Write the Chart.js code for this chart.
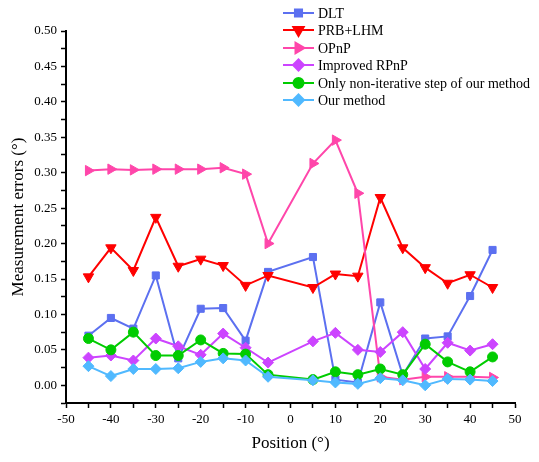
<!DOCTYPE html>
<html>
<head>
<meta charset="utf-8">
<script src="https://cdn.jsdelivr.net/npm/chart.js@4/dist/chart.umd.min.js"></script>
<style>
  html, body { margin: 0; padding: 0; background: #fff; }
  #wrap { width: 539px; height: 462px; }
</style>
</head>
<body>
<div id="wrap"><canvas id="myChart" width="539" height="462"></canvas></div>
<script>
'use strict';

// Positions (deg) where every method was measured
const positions = [-45, -40, -35, -30, -25, -20, -15, -10, -5, 5, 10, 15, 20, 25, 30, 35, 40, 45];

const dlt      = [0.070, 0.095, 0.080, 0.155, 0.038, 0.108, 0.109, 0.063, 0.160, 0.181, 0.008, 0.004, 0.117, 0.014, 0.066, 0.069, 0.126, 0.191];
const prbLhm   = [0.153, 0.194, 0.162, 0.237, 0.168, 0.178, 0.169, 0.141, 0.155, 0.138, 0.157, 0.154, 0.265, 0.194, 0.166, 0.144, 0.156, 0.138];
const opnp     = [0.303, 0.305, 0.304, 0.305, 0.305, 0.305, 0.307, 0.298, 0.200, 0.313, 0.346, 0.271, 0.012, 0.008, 0.012, 0.012, 0.012, 0.011];
const rpnp     = [0.039, 0.042, 0.035, 0.066, 0.055, 0.043, 0.073, 0.053, 0.032, 0.062, 0.074, 0.050, 0.047, 0.075, 0.023, 0.060, 0.049, 0.058];
const nonIter  = [0.066, 0.050, 0.075, 0.042, 0.042, 0.064, 0.045, 0.044, 0.015, 0.008, 0.019, 0.015, 0.023, 0.015, 0.058, 0.033, 0.019, 0.040];
const ours     = [0.027, 0.013, 0.023, 0.023, 0.024, 0.033, 0.038, 0.035, 0.012, 0.007, 0.004, 0.002, 0.010, 0.007, 0.000, 0.009, 0.008, 0.006];

const seriesNames = ['DLT', 'PRB+LHM', 'OPnP', 'Improved RPnP', 'Only non-iterative step of our method', 'Our method'];

// Axis ticks
const xTicks = [-50, -40, -30, -20, -10, 0, 10, 20, 30, 40, 50];
const yTicks = [0.00, 0.05, 0.10, 0.15, 0.20, 0.25, 0.30, 0.35, 0.40, 0.45, 0.50];

const FONT = '"Liberation Serif", "Times New Roman", serif';

function toPoints(values) {
    return positions.map((x, i) => ({x: x, y: values[i]}));
}

function makeSet(label, values, color, style, rotation, radius, order) {
    return {
        label: label,
        data: toPoints(values),
        borderColor: color,
        backgroundColor: color,
        borderWidth: 2,
        pointStyle: style,
        pointRotation: rotation,
        pointRadius: radius,
        pointBorderWidth: 1,
        pointHoverRadius: radius,
        order: order,
        tension: 0
    };
}

const datasets = [
    makeSet(seriesNames[0], dlt,     'rgb(92,112,240)',  'rect',     0,   5, 5),
    makeSet(seriesNames[1], prbLhm,  'rgb(255,0,0)',     'triangle', 180, 6, 4),
    makeSet(seriesNames[2], opnp,    'rgb(255,70,170)',  'triangle', 90,  6, 3),
    makeSet(seriesNames[3], rpnp,    'rgb(204,68,255)',  'rectRot',  0,   5.5, 2),
    makeSet(seriesNames[4], nonIter, 'rgb(0,204,0)',     'circle',   0,   5, 1),
    makeSet(seriesNames[5], ours,    'rgb(80,185,255)',  'rectRot',  0,   5.5, 0)
];

// Legend drawn inside the plot, top right, like the original
const insideLegend = {
    id: 'insideLegend',
    afterDraw(chart) {
        const ctx = chart.ctx;
        const x0 = 283, x1 = 314, tx = 318;
        const rowY = [13, 30, 48, 65, 83, 100];
        ctx.save();
        ctx.font = '14px ' + FONT;
        ctx.textBaseline = 'middle';
        ctx.fillStyle = '#000';
        datasets.forEach((ds, i) => {
            const y = rowY[i];
            ctx.strokeStyle = ds.borderColor;
            ctx.lineWidth = 2;
            ctx.beginPath();
            ctx.moveTo(x0, y);
            ctx.lineTo(x1, y);
            ctx.stroke();
            ctx.fillStyle = ds.backgroundColor;
            Chart.helpers.drawPoint(ctx, {
                pointStyle: ds.pointStyle,
                rotation: ds.pointRotation,
                radius: ds.pointRadius,
                borderWidth: 1
            }, (x0 + x1) / 2, y);
            ctx.fillStyle = '#000';
            ctx.fillText(ds.label, tx, y + 1);
        });
        ctx.restore();
    }
};

function renderChart() {
    const ctx = document.getElementById('myChart').getContext('2d');
    new Chart(ctx, {
        type: 'line',
        data: { datasets: datasets },
        options: {
            responsive: false,
            animation: false,
            layout: { padding: { top: 31, right: 24, left: 8, bottom: 8 } },
            plugins: {
                legend: { display: false },
                tooltip: { enabled: false }
            },
            scales: {
                x: {
                    type: 'linear',
                    min: -50,
                    max: 50,
                    border: { display: true, color: '#000', width: 2 },
                    grid: { drawOnChartArea: false, drawTicks: true, tickLength: 5, tickColor: '#000', tickWidth: 1.5 },
                    ticks: {
                        stepSize: 5,
                        color: '#000',
                        font: { family: FONT, size: 13 },
                        padding: 4,
                        maxRotation: 0,
                        autoSkip: false,
                        callback: v => xTicks.includes(v) ? String(v) : ''
                    },
                    title: {
                        display: true,
                        text: 'Position (°)',
                        color: '#000',
                        font: { family: FONT, size: 17 },
                        padding: { top: 8, bottom: 0 }
                    },
                    afterFit: scale => { scale.height = 51; }
                },
                y: {
                    type: 'linear',
                    min: -0.025,
                    max: 0.5,
                    border: { display: true, color: '#000', width: 2 },
                    grid: { drawOnChartArea: false, drawTicks: true, tickLength: 5, tickColor: '#000', tickWidth: 1.5 },
                    ticks: {
                        stepSize: 0.025,
                        color: '#000',
                        font: { family: FONT, size: 13 },
                        padding: 4,
                        autoSkip: false,
                        callback: v => {
                            const hit = yTicks.find(t => Math.abs(t - v) < 1e-6);
                            return hit === undefined ? '' : hit.toFixed(2);
                        }
                    },
                    title: {
                        display: true,
                        text: 'Measurement errors (°)',
                        color: '#000',
                        font: { family: FONT, size: 17 },
                        padding: { top: 0, bottom: 6 }
                    },
                    afterFit: scale => { scale.width = 58; }
                }
            }
        },
        plugins: [insideLegend]
    });
}

renderChart();
</script>
</body>
</html>
